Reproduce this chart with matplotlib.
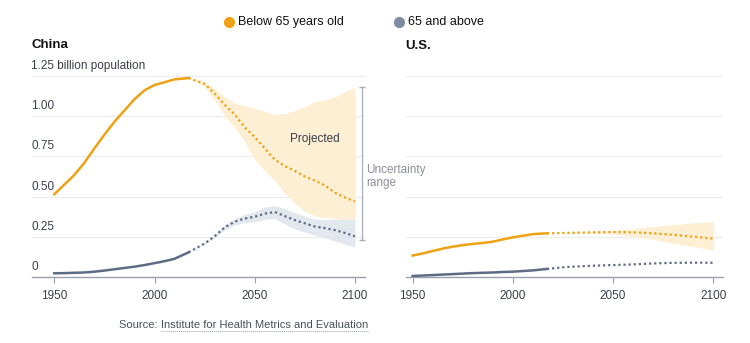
import matplotlib
matplotlib.use("Agg")
import matplotlib.pyplot as plt
from matplotlib.lines import Line2D

plt.rcParams['font.family'] = ['Liberation Sans', 'DejaVu Sans']

# --- donnees (milliards de personnes) ---
years_hist = [1950, 1955, 1960, 1965, 1970, 1975, 1980, 1985, 1990, 1995, 2000, 2005, 2010, 2017]
years_proj = [2017, 2025, 2030, 2035, 2040, 2045, 2050, 2055, 2060, 2065, 2070, 2075, 2080, 2085, 2090, 2095, 2100]

china_young_hist = [0.515, 0.575, 0.635, 0.71, 0.8, 0.885, 0.965, 1.035, 1.105, 1.16, 1.193, 1.21, 1.228, 1.236]
china_old_hist = [0.025, 0.026, 0.028, 0.03, 0.035, 0.042, 0.05, 0.058, 0.066, 0.076, 0.088, 0.1, 0.115, 0.155]
china_young_proj = [1.236, 1.2, 1.14, 1.07, 1.01, 0.93, 0.87, 0.8, 0.73, 0.69, 0.66, 0.625, 0.6, 0.57, 0.525, 0.495, 0.47]
china_young_lo = [1.236, 1.18, 1.1, 1.0, 0.93, 0.84, 0.73, 0.66, 0.6, 0.52, 0.46, 0.41, 0.38, 0.37, 0.365, 0.36, 0.36]
china_young_hi = [1.236, 1.21, 1.17, 1.12, 1.08, 1.065, 1.05, 1.03, 1.01, 1.015, 1.035, 1.06, 1.09, 1.1, 1.12, 1.15, 1.18]
china_old_proj = [0.155, 0.21, 0.255, 0.31, 0.345, 0.365, 0.376, 0.395, 0.405, 0.38, 0.355, 0.335, 0.315, 0.305, 0.293, 0.275, 0.255]
china_old_lo = [0.155, 0.205, 0.245, 0.295, 0.325, 0.34, 0.345, 0.36, 0.365, 0.33, 0.3, 0.28, 0.262, 0.245, 0.225, 0.205, 0.19]
china_old_hi = [0.155, 0.215, 0.265, 0.325, 0.365, 0.39, 0.405, 0.435, 0.445, 0.425, 0.4, 0.38, 0.36, 0.36, 0.36, 0.36, 0.36]

us_young_hist = [0.135, 0.148, 0.163, 0.178, 0.19, 0.2, 0.207, 0.213, 0.221, 0.235, 0.248, 0.258, 0.268, 0.273]
us_old_hist = [0.008, 0.011, 0.014, 0.017, 0.02, 0.023, 0.026, 0.028, 0.03, 0.033, 0.035, 0.039, 0.043, 0.052]
us_young_proj = [0.273, 0.275, 0.276, 0.278, 0.279, 0.28, 0.281, 0.28, 0.279, 0.276, 0.273, 0.268, 0.264, 0.258, 0.252, 0.246, 0.24]
us_young_lo = [0.273, 0.274, 0.274, 0.274, 0.273, 0.271, 0.268, 0.262, 0.255, 0.245, 0.235, 0.222, 0.21, 0.2, 0.19, 0.18, 0.17]
us_young_hi = [0.273, 0.276, 0.278, 0.282, 0.285, 0.288, 0.292, 0.297, 0.302, 0.308, 0.315, 0.321, 0.327, 0.333, 0.338, 0.342, 0.345]
us_old_proj = [0.052, 0.062, 0.066, 0.069, 0.072, 0.074, 0.076, 0.078, 0.08, 0.083, 0.086, 0.088, 0.09, 0.09, 0.091, 0.091, 0.09]

yticks = [0, 0.25, 0.5, 0.75, 1.0, 1.25]
ylabels = ['0', '0.25', '0.50', '0.75', '1.00', '1.25 billion population']
xticks = [1950, 2000, 2050, 2100]

ORANGE = '#efa114'
SLATE = '#5d6c84'
BAND_O = '#fdefd3'
BAND_G = '#dfe3ec'
GRID = '#ededed'
AXIS = '#9aa0ab'
TXT = '#3a3f4a'

fig = plt.figure(figsize=(7.5, 3.43), dpi=100)
ax2 = fig.add_axes([0.5413, 0.1915, 0.4227, 0.611])
ax1 = fig.add_axes([0.0427, 0.1915, 0.444, 0.611])


def habiller(ax, xmin, xmax):
    ax.set_xlim(xmin, xmax)
    ax.set_ylim(0, 1.3)
    ax.patch.set_visible(False)
    for s in ['top', 'right', 'left']:
        ax.spines[s].set_visible(False)
    ax.spines['bottom'].set_color(AXIS)
    ax.spines['bottom'].set_linewidth(1)
    for v in yticks[1:]:
        ax.axhline(v, color=GRID, lw=0.9, zorder=0)
    ax.set_yticks([])
    ax.set_xticks(xticks)
    ax.set_xticklabels([str(x) for x in xticks])
    ax.tick_params(axis='x', length=4, color=AXIS, pad=5, labelsize=8.5, labelcolor=TXT)


habiller(ax1, 1938.9, 2105.0)
habiller(ax2, 1946.7, 2104.8)

# Chine
ax1.fill_between(years_proj, china_young_lo, china_young_hi, color=BAND_O, lw=0, zorder=1)
ax1.fill_between(years_proj, china_old_lo, china_old_hi, color=BAND_G, alpha=0.85, lw=0, zorder=1)
ax1.plot(years_hist, china_young_hist, color=ORANGE, lw=1.8, zorder=3)
ax1.plot(years_proj, china_young_proj, color=ORANGE, lw=1.6, ls=(0, (1, 1.3)), zorder=3)
ax1.plot(years_hist, china_old_hist, color=SLATE, lw=1.8, zorder=3)
ax1.plot(years_proj, china_old_proj, color=SLATE, lw=1.6, ls=(0, (1, 1.3)), zorder=3)

# Etats-Unis
ax2.fill_between(years_proj, us_young_lo, us_young_hi, color=BAND_O, lw=0, zorder=1)
ax2.plot(years_hist, us_young_hist, color=ORANGE, lw=1.8, zorder=3)
ax2.plot(years_proj, us_young_proj, color=ORANGE, lw=1.6, ls=(0, (1, 1.3)), zorder=3)
ax2.plot(years_hist, us_old_hist, color=SLATE, lw=1.8, zorder=3)
ax2.plot(years_proj, us_old_proj, color=SLATE, lw=1.6, ls=(0, (1, 1.3)), zorder=3)

# etiquettes de l'axe y au-dessus des lignes
for v, lab in zip(yticks, ylabels):
    ax1.annotate(lab, (0, v), xycoords=('axes fraction', 'data'), xytext=(-0.5, 3),
                 textcoords='offset points', ha='left', va='bottom',
                 fontsize=8.5, color=TXT, annotation_clip=False)

# plage d'incertitude
ax1.plot([2103.5, 2103.5], [0.23, 1.18], color='#a9aeb8', lw=0.9, clip_on=False)
ax1.plot([2103.5, 2103.5], [0.23, 1.18], color='#a9aeb8', lw=0, marker='_', ms=4, clip_on=False)
ax1.text(2105.5, 0.625, 'Uncertainty\nrange', fontsize=8.5, color='#8b909b', va='center',
         ha='left', linespacing=1.15, clip_on=False, zorder=10)
ax1.text(2080, 0.858, 'Projected', fontsize=8.5, color=TXT, ha='center', va='center')

# titres
fig.text(31 / 750, 1 - 45 / 343, 'China', fontsize=9.5, fontweight='bold', color='#111111', va='center')
fig.text(405 / 750, 1 - 46 / 343, 'U.S.', fontsize=9.5, fontweight='bold', color='#111111', va='center')

# legende
fig.add_artist(Line2D([229 / 750], [1 - 22 / 343], transform=fig.transFigure, marker='o',
                      ms=7, color=ORANGE, lw=0))
fig.text(238 / 750, 1 - 22 / 343, 'Below 65 years old', fontsize=9, color='#111111', va='center')
fig.add_artist(Line2D([399 / 750], [1 - 22 / 343], transform=fig.transFigure, marker='o',
                      ms=7, color='#7d8ba3', lw=0))
fig.text(408 / 750, 1 - 22 / 343, '65 and above', fontsize=9, color='#111111', va='center')

# source
t1 = fig.text(119 / 750, 1 - 325 / 343, 'Source: ', fontsize=8, color='#4a4f5c', va='center')
fig.canvas.draw()
bb = t1.get_window_extent()
x2 = bb.x1 / fig.bbox.width
t2 = fig.text(x2, 1 - 325 / 343, 'Institute for Health Metrics and Evaluation', fontsize=8,
              color='#4a4f5c', va='center')
fig.canvas.draw()
bb2 = t2.get_window_extent()
yl = (bb2.y0 - 1) / fig.bbox.height
fig.add_artist(Line2D([bb2.x0 / fig.bbox.width, bb2.x1 / fig.bbox.width], [yl, yl],
                      transform=fig.transFigure, color='#9aa0ab', lw=0.7, ls=(0, (1, 1))))

fig.savefig('out.png', dpi=100)
